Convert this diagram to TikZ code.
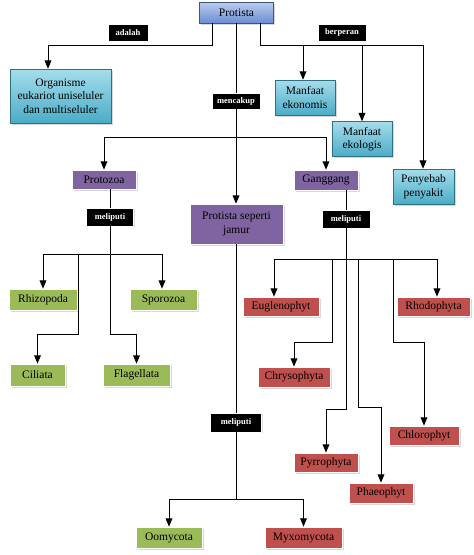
\documentclass[tikz,border=0pt]{standalone}
\usepackage{fontspec}
\setmainfont{Liberation Serif}
\usetikzlibrary{calc,positioning,shapes,arrows,shadows}
\definecolor{ungu}{HTML}{8064A2}
\definecolor{hijau}{HTML}{9BBB59}
\definecolor{merah}{HTML}{C0504D}
\definecolor{toscamuda}{HTML}{A5DDEC}
\definecolor{tosca}{HTML}{4BACC6}
\definecolor{birumuda}{HTML}{BCCDEF}
\definecolor{biru}{HTML}{6A8ED2}
\tikzstyle{kotak}=[shape=rectangle, draw=white, line width=0.8pt, inner sep=0.4mm, align=center, font=\fontsize{11.5}{13.5}\selectfont, drop shadow={shadow xshift=1.5pt, shadow yshift=-1.5pt, fill=black!30}]
\tikzstyle{btop}=[kotak, draw=biru!60!black, line width=0.6pt, top color=birumuda, bottom color=biru]
\tikzstyle{bts}=[kotak, draw=tosca!65!black, line width=0.6pt, top color=toscamuda, bottom color=tosca]
\tikzstyle{bungu}=[kotak, fill=ungu]
\tikzstyle{bhijau}=[kotak, fill=hijau]
\tikzstyle{bmerah}=[kotak, fill=merah]
\tikzstyle{ket}=[shape=rectangle, fill=black, draw=white, line width=0.8pt, text=white, inner sep=0.4mm, font=\bfseries\fontsize{8.5}{9}\selectfont, drop shadow={shadow xshift=1pt, shadow yshift=-1pt, fill=black!25}]
\tikzstyle{garis}=[line width=0.9pt]
\tikzstyle{panah}=[garis, -triangle 45]

\begin{document}
\begin{tikzpicture}[x=1pt,y=-1pt]
\useasboundingbox (0,0) rectangle (474,555);
\node (protista) [btop, minimum width=74pt, minimum height=21pt] at (236.5,12.5) {Protista};
\node (adalah) [ket, minimum width=40pt, minimum height=17pt] at (128,32.5) {adalah};
\node (berperan) [ket, minimum width=48pt, minimum height=17pt] at (342,32.5) {berperan};

\node (organisme) [bts, minimum width=101pt, minimum height=54pt] at (60.5,96) {Organisme\\eukariot uniseluler\\dan multiseluler};
\node (ekonomis) [bts, minimum width=60pt, minimum height=35pt] at (305,97.5) {Manfaat\\ekonomis};
\node (ekologis) [bts, minimum width=60pt, minimum height=35pt] at (362,139) {Manfaat\\ekologis};
\node (penyebab) [bts, minimum width=61pt, minimum height=35pt] at (423.5,186.5) {Penyebab\\penyakit};
\node (mencakup) [ket, minimum width=48pt, minimum height=16pt] at (236,101) {mencakup};

\node (protozoa) [bungu, minimum width=64pt, minimum height=19pt] at (104,179.5) {Protozoa};
\node (ganggang) [bungu, minimum width=64pt, minimum height=20pt] at (326,180) {Ganggang};
\node (jamur) [bungu, minimum width=93pt, minimum height=40pt] at (236.5,224) {Protista seperti\\jamur};
\node (meliputiA) [ket, minimum width=47pt, minimum height=18pt] at (110,217) {meliputi};
\node (meliputiB) [ket, minimum width=48pt, minimum height=18pt] at (346,219) {meliputi};
\node (meliputiC) [ket, minimum width=51pt, minimum height=19pt] at (236,422.5) {meliputi};

% protozoa
\node (rhizopoda) [bhijau, minimum width=68pt, minimum height=21pt] at (43,299.5) {Rhizopoda};
\node (sporozoa) [bhijau, minimum width=67pt, minimum height=21pt] at (163.5,299.5) {Sporozoa};
\node (ciliata) [bhijau, minimum width=55pt, minimum height=22pt] at (37.5,375) {Ciliata};
\node (flagellata) [bhijau, minimum width=67pt, minimum height=22pt] at (136.5,375) {Flagellata};

% ganggang
\node (euglenophyt) [bmerah, minimum width=76pt, minimum height=19pt] at (281,306.5) {Euglenophyt};
\node (rhodophyta) [bmerah, minimum width=73pt, minimum height=19pt] at (433.5,306.5) {Rhodophyta};
\node (chrysophyta) [bmerah, minimum width=72pt, minimum height=20pt] at (294,377) {Chrysophyta};
\node (chlorophyt) [bmerah, minimum width=70pt, minimum height=19pt] at (424,435.5) {Chlorophyt};
\node (pyrrophyta) [bmerah, minimum width=64pt, minimum height=19pt] at (326,462.5) {Pyrrophyta};
\node (phaeophyt) [bmerah, minimum width=64pt, minimum height=20pt] at (381,493) {Phaeophyt};

% jamur
\node (oomycota) [bhijau, minimum width=66pt, minimum height=21pt] at (169,537.5) {Oomycota};
\node (myxomycota) [bmerah, minimum width=77pt, minimum height=21pt] at (303.5,537.5) {Myxomycota};

% titik belok
\coordinate (kiri) at (48,45);
\coordinate (kanan) at (423,45);
\coordinate (eko) at (303,45);
\coordinate (ekl) at (362,45);
\coordinate (cabang) at (236,137);
\coordinate (hA) at (110,254);
\coordinate (tA) at (110,334);
\coordinate (cA) at (78,254);
\coordinate (dA) at (78,334);
\coordinate (hB) at (346,259);
\coordinate (pB) at (346,409);
\coordinate (r1) at (332,259);
\coordinate (r2) at (332,342);
\coordinate (s1) at (358,259);
\coordinate (s2) at (358,407);
\coordinate (u1) at (393,259);
\coordinate (u2) at (393,342);
\coordinate (hC) at (236,499);

\draw[panah] ([xshift=-24.5pt]protista.south) |- (kiri) -- (kiri |- organisme.north);
\draw[panah] ([xshift=23.5pt]protista.south) |- (kanan) -- (kanan |- penyebab.north);
\draw[panah] (eko) -- (eko |- ekonomis.north);
\draw[panah] (ekl) -- (ekl |- ekologis.north);
\draw[garis] (protista.south -| mencakup) -- (mencakup.north);
\draw[panah] (mencakup.south) -- (mencakup.south |- jamur.north);
\draw[panah] (cabang) -| (protozoa.north);
\draw[panah] (cabang) -| (ganggang.north);

\draw[garis] (protozoa.south -| meliputiA) -- (meliputiA.north);
\draw[panah] (meliputiA.south) -- (tA) -| (flagellata.north);
\draw[panah] (hA) -| (rhizopoda.north);
\draw[panah] (hA) -| ([xshift=-1.5pt]sporozoa.north);
\draw[panah] (cA) -- (dA) -| (ciliata.north);

\draw[garis] (ganggang.south -| meliputiB) -- (meliputiB.north);
\draw[panah] (meliputiB.south) -- (pB) -| (pyrrophyta.north);
\draw[panah] (hB) -| ([xshift=-7pt]euglenophyt.north);
\draw[panah] (hB) -| ([xshift=3.5pt]rhodophyta.north);
\draw[panah] (r1) -- (r2) -| (chrysophyta.north);
\draw[panah] (s1) -- (s2) -| (phaeophyt.north);
\draw[panah] (u1) -- (u2) -| (chlorophyt.north);

\draw[garis] (jamur.south -| meliputiC) -- (meliputiC.north);
\draw[garis] (meliputiC.south) -- (hC);
\draw[panah] (hC) -| (oomycota.north);
\draw[panah] (hC) -| (myxomycota.north);
\end{tikzpicture}
\end{document}
